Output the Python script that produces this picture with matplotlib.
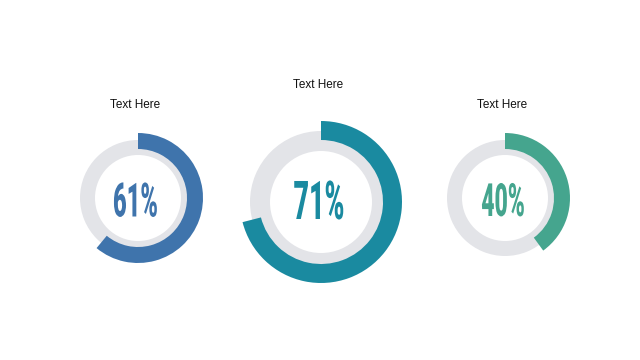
import matplotlib.pyplot as plt
from matplotlib.patheffects import AbstractPathEffect
from matplotlib.transforms import Affine2D

# gauge data
titles = ['Text Here', 'Text Here', 'Text Here']
values = [61, 71, 40]
colors = ['#3F74AC', '#1A8AA0', '#45A58E']

# layout in pixels (x, y from top), ring radii
centers = [(138, 198), (321, 202), (505, 198)]
arc_r = [65, 81, 65]
arc_w = [16, 19, 16]
ring_r = [58, 71, 58]
ring_w = [15, 20, 15]
title_y = [105, 85, 105]
num_size = [34, 38.5, 33]
num_pos = [(135.5, 199), (319, 199), (503, 198.5)]


class Squeeze(AbstractPathEffect):
    # narrow the glyphs horizontally around x0 (display px) to fake a condensed face
    def __init__(self, x0, sx):
        super().__init__()
        self.x0 = x0
        self.sx = sx

    def draw_path(self, renderer, gc, tpath, affine, rgbFace=None):
        t = affine + Affine2D().translate(-self.x0, 0).scale(self.sx, 1).translate(self.x0, 0)
        renderer.draw_path(gc, tpath, t, rgbFace)


W, H = 640, 360
fig = plt.figure(figsize=(6.4, 3.6), dpi=100)
ax = fig.add_axes([0, 0, 1, 1])

for i in range(3):
    cx, cy = centers[i]
    cy = H - cy
    # grey background ring
    ax.pie([1], colors=['#E3E4E8'], radius=ring_r[i], center=(cx, cy),
           wedgeprops=dict(width=ring_w[i], linewidth=0), frame=True)
    # coloured progress arc, clockwise from 12 o'clock
    ax.pie([values[i], 100 - values[i]], colors=[colors[i], 'none'],
           radius=arc_r[i], center=(cx, cy), startangle=90, counterclock=False,
           wedgeprops=dict(width=arc_w[i], linewidth=0), frame=True)
    ax.text(centers[i][0] - 3, H - title_y[i], titles[i], ha='center', va='center',
            fontsize=8.5, color='#111111', family='Liberation Sans')

ax.set_xlim(0, W)
ax.set_ylim(0, H)
ax.set_aspect('equal')
ax.axis('off')

for i in range(3):
    nx, ny = num_pos[i]
    x0 = ax.transData.transform((nx, H - ny))[0]
    ax.text(nx, H - ny, f'{values[i]}%', ha='center', va='center_baseline',
            fontsize=num_size[i], fontweight='black', color=colors[i],
            family=['Roboto', 'Liberation Sans'],
            path_effects=[Squeeze(x0, 0.5)])

fig.savefig('out.png', dpi=100, facecolor='white')
